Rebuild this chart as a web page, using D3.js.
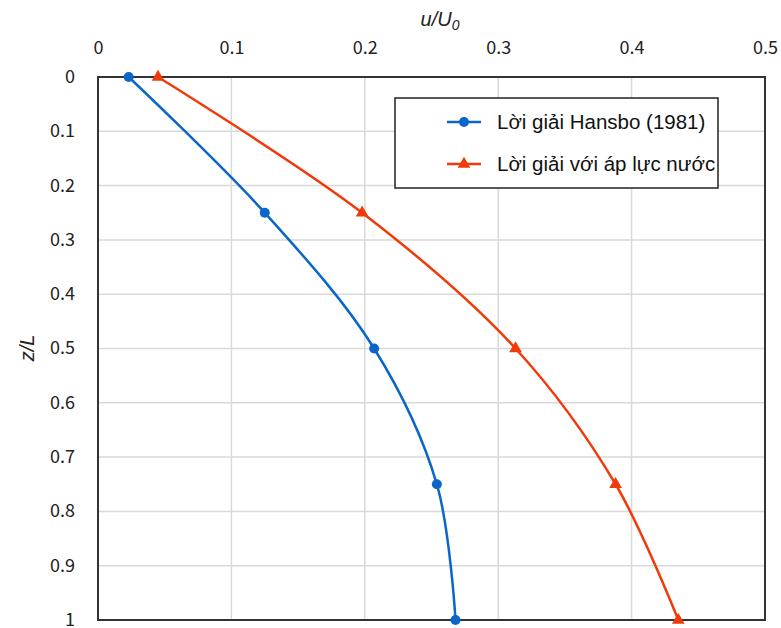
<!DOCTYPE html>
<html>
<head>
<meta charset="utf-8">
<script src="https://cdn.jsdelivr.net/npm/d3@7"></script>
<style>
  body { margin: 0; background: #fff; }
  .tick text { font-family: "Noto Sans CJK KR", "Noto Sans", sans-serif; font-size: 18px; fill: #222; }
</style>
</head>
<body>
<div id="chart"></div>
<script>
const zVals = [0, 0.25, 0.5, 0.75, 1];
const hansbo = [0.023, 0.125, 0.207, 0.254, 0.268];
const waterPressure = [0.045, 0.198, 0.313, 0.388, 0.435];
const xTicks = [0, 0.1, 0.2, 0.3, 0.4, 0.5];
const yTicks = [0, 0.1, 0.2, 0.3, 0.4, 0.5, 0.6, 0.7, 0.8, 0.9, 1];
const seriesNames = ["Lời giải Hansbo (1981)", "Lời giải với áp lực nước"];
const seriesColors = ["#0a66c8", "#f03a0a"];

const width = 781, height = 628;
const margin = {top: 77, right: 16, bottom: 8, left: 98};

const svg = d3.select("#chart").append("svg").attr("width", width).attr("height", height);

const x = d3.scaleLinear().domain([0, 0.5]).range([margin.left, width - margin.right]);
const y = d3.scaleLinear().domain([0, 1]).range([margin.top, height - margin.bottom]);

// grid
svg.append("g").selectAll("line").data(xTicks.slice(1, -1)).join("line")
    .attr("x1", d => x(d)).attr("x2", d => x(d))
    .attr("y1", y(0)).attr("y2", y(1))
    .attr("stroke", "#d9d9d9").attr("stroke-width", 1.5);
svg.append("g").selectAll("line").data(yTicks.slice(1, -1)).join("line")
    .attr("x1", x(0)).attr("x2", x(0.5))
    .attr("y1", d => y(d)).attr("y2", d => y(d))
    .attr("stroke", "#d9d9d9").attr("stroke-width", 1.5);

// axes
const xAxis = svg.append("g").attr("transform", `translate(0,${margin.top - 20})`)
    .call(d3.axisTop(x).tickValues(xTicks).tickFormat(d3.format("")).tickSize(0));
xAxis.select(".domain").remove();
xAxis.selectAll("text").attr("dy", "0");

const yAxis = svg.append("g").attr("transform", `translate(${margin.left - 20},0)`)
    .call(d3.axisLeft(y).tickValues(yTicks).tickFormat(d3.format("")).tickSize(0));
yAxis.select(".domain").remove();
yAxis.selectAll("text").attr("dy", "0.3em");

// frame
svg.append("rect")
    .attr("x", x(0)).attr("y", y(0))
    .attr("width", x(0.5) - x(0)).attr("height", y(1) - y(0))
    .attr("fill", "none").attr("stroke", "#333").attr("stroke-width", 2);

// titles
svg.append("text").attr("x", 440).attr("y", 26)
    .attr("text-anchor", "middle")
    .attr("font-family", "Liberation Sans, Arial, sans-serif")
    .attr("font-style", "italic").attr("font-size", 20).attr("fill", "#222")
    .html('u/U<tspan font-size="14" dy="4">0</tspan>');

svg.append("text").attr("transform", "translate(34,348) rotate(-90)")
    .attr("text-anchor", "middle")
    .attr("font-family", "Liberation Sans, Arial, sans-serif")
    .attr("font-style", "italic").attr("font-size", 20).attr("fill", "#222")
    .text("z/L");

const line = d3.line().x(d => x(d[0])).y(d => y(d[1])).curve(d3.curveCatmullRom.alpha(0.5));
const series = [hansbo, waterPressure].map(vals => vals.map((v, i) => [v, zVals[i]]));

const triangle = d3.symbol().type(d3.symbolTriangle).size(70);

series.forEach((pts, i) => {
    svg.append("path").datum(pts)
        .attr("fill", "none").attr("stroke", seriesColors[i]).attr("stroke-width", 2.5)
        .attr("d", line);
    if (i === 0) {
        svg.append("g").selectAll("circle").data(pts).join("circle")
            .attr("cx", d => x(d[0])).attr("cy", d => y(d[1])).attr("r", 5)
            .attr("fill", seriesColors[i]);
    } else {
        svg.append("g").selectAll("path").data(pts).join("path")
            .attr("transform", d => `translate(${x(d[0])},${y(d[1])})`)
            .attr("d", triangle).attr("fill", seriesColors[i]);
    }
});

// legend
const lg = svg.append("g").attr("transform", "translate(395,98)");
lg.append("rect").attr("width", 323).attr("height", 90)
    .attr("fill", "#fff").attr("stroke", "#222").attr("stroke-width", 1.5);
seriesNames.forEach((name, i) => {
    const ly = 24 + i * 42;
    lg.append("line").attr("x1", 52).attr("x2", 86).attr("y1", ly).attr("y2", ly)
        .attr("stroke", seriesColors[i]).attr("stroke-width", 2.5);
    if (i === 0) {
        lg.append("circle").attr("cx", 69).attr("cy", ly).attr("r", 5).attr("fill", seriesColors[i]);
    } else {
        lg.append("path").attr("transform", `translate(69,${ly})`).attr("d", triangle).attr("fill", seriesColors[i]);
    }
    lg.append("text").attr("x", 102).attr("y", ly).attr("dy", "0.35em")
        .attr("font-family", "Liberation Sans, Arial, sans-serif")
        .attr("font-size", 20.5).attr("fill", "#111")
        .text(name);
});
</script>
</body>
</html>
